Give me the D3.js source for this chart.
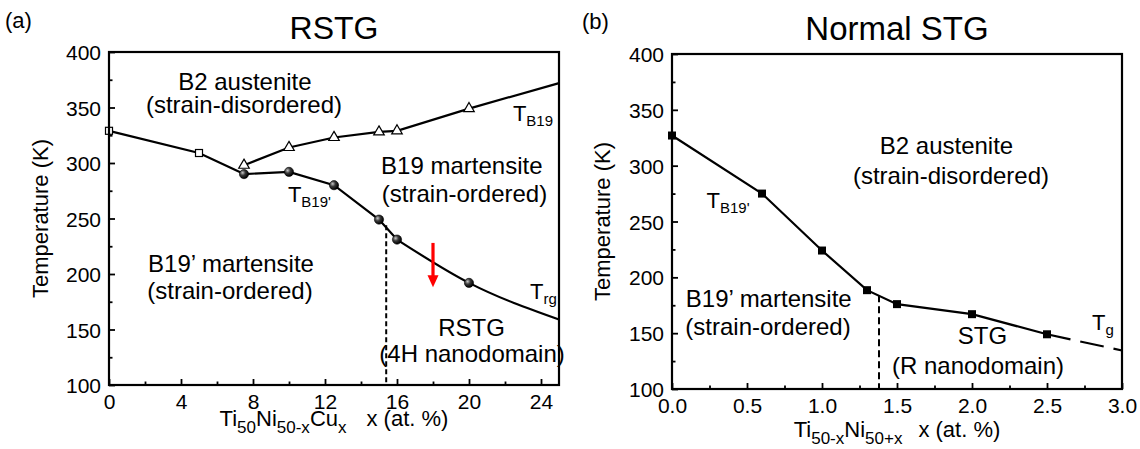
<!DOCTYPE html>
<html>
<head>
<meta charset="utf-8">
<script src="https://cdn.jsdelivr.net/npm/d3@7"></script>
<style>
  body { margin: 0; background: #fff; }
  svg text { font-family: "Liberation Sans", Arial, sans-serif; fill: #000; }
</style>
</head>
<body>
<div id="chart"></div>
<script>
// (a) RSTG, Ti50Ni50-xCux
const aSquareX = [0, 5];
const aSquareT = [329, 309];
const aTriangleX = [7.5, 10, 12.5, 15, 16, 20];
const aTriangleT = [298, 314, 323, 328, 329, 349];
const aTriangleEnd = [25, 372];
const aCircleX = [7.5, 10, 12.5, 15, 16, 20];
const aCircleT = [290, 292, 280, 249, 231, 192];
const aCircleEnd = [25, 159];
const aBoundary = [15.4, 244];
const aArrow = [18, 228, 188];
const aXTicks = [0, 4, 8, 12, 16, 20, 24];
const aXMinor = [2, 6, 10, 14, 18, 22];

// (b) Normal STG, Ti50-xNi50+x
const bX = [0, 0.6, 1.0, 1.3, 1.5, 2.0, 2.5];
const bT = [327, 275, 224, 188.5, 176, 167, 149];
const bEnd = [3.0, 134.5];
const bBoundary = [1.38, 184];
const bXTicks = [0, 0.5, 1.0, 1.5, 2.0, 2.5, 3.0];
const bXMinor = [0.25, 0.75, 1.25, 1.75, 2.25, 2.75];

const yTicks = [100, 150, 200, 250, 300, 350, 400];
const yMinor = [125, 175, 225, 275, 325, 375];

const svg = d3.select('#chart').append('svg')
  .attr('width', 1140)
  .attr('height', 449)
  .style('background', '#fff');

const grad = svg.append('defs').append('radialGradient')
  .attr('id', 'ball')
  .attr('cx', '35%').attr('cy', '35%').attr('r', '65%');
grad.append('stop').attr('offset', '0%').attr('stop-color', '#c8c8c8');
grad.append('stop').attr('offset', '45%').attr('stop-color', '#3a3a3a');
grad.append('stop').attr('offset', '100%').attr('stop-color', '#000');

const makePanel = (box, xDomain) => ({
  box,
  x: d3.scaleLinear().domain(xDomain).range([box.left, box.right]),
  y: d3.scaleLinear().domain([100, 400]).range([box.bottom, box.top])
});

const drawAxes = (p, xTicks, xMinor, xFmt, labelY) => {
  const { box } = p;
  // d3 axis sets its own font on the group, so restyle after the call
  const tidy = (g) => {
    g.select('.domain').remove();
    g.attr('font-size', 21).attr('font-family', null);
    g.selectAll('line').attr('stroke', '#000').attr('stroke-width', 1.8);
    g.selectAll('text').attr('fill', '#000');
  };

  svg.append('g').attr('transform', `translate(0,${box.bottom})`)
    .call(d3.axisBottom(p.x).tickValues(xMinor).tickSize(-3.5).tickFormat(''))
    .call(tidy);
  svg.append('g').attr('transform', `translate(0,${box.bottom})`)
    .call(d3.axisBottom(p.x).tickValues(xTicks).tickSize(-6).tickFormat(xFmt))
    .call(tidy)
    .call(g => g.selectAll('text').attr('y', labelY).attr('dy', null));

  svg.append('g').attr('transform', `translate(${box.left},0)`)
    .call(d3.axisLeft(p.y).tickValues(yMinor).tickSize(-3.5).tickFormat(''))
    .call(tidy);
  svg.append('g').attr('transform', `translate(${box.left},0)`)
    .call(d3.axisLeft(p.y).tickValues(yTicks).tickSize(-6).tickPadding(8).tickFormat(d3.format('d')))
    .call(tidy)
    .call(g => g.selectAll('text').attr('dy', '0.36em'));

  svg.append('rect')
    .attr('x', box.left).attr('y', box.top)
    .attr('width', box.right - box.left).attr('height', box.bottom - box.top)
    .attr('fill', 'none').attr('stroke', '#000').attr('stroke-width', 2.2);
};

const label = (p, xv, tv, txt, size = 24) => {
  svg.append('text')
    .attr('x', p.x(xv)).attr('y', p.y(tv))
    .attr('text-anchor', 'middle')
    .attr('font-size', size)
    .text(txt);
};

const tLabel = (p, xv, tv, sub) => {
  const t = svg.append('text')
    .attr('x', p.x(xv)).attr('y', p.y(tv))
    .attr('font-size', 22);
  t.append('tspan').text('T');
  t.append('tspan').attr('font-size', 15).attr('dy', 5).text(sub);
};

const axisTitles = (p, parts, gap, baseline, yTitleX) => {
  const { box } = p;
  const t = svg.append('text')
    .attr('x', (box.left + box.right) / 2)
    .attr('y', baseline)
    .attr('text-anchor', 'middle')
    .attr('font-size', 22);
  let low = false;
  parts.forEach(([txt, sub, shift]) => {
    const s = t.append('tspan').text(txt);
    if (sub && !low) { s.attr('dy', shift).attr('font-size', 17); low = true; }
    else if (sub) { s.attr('font-size', 17); }
    else if (low) { s.attr('dy', -shift); low = false; }
  });
  t.append('tspan').attr('dx', gap).attr('dy', low ? -parts[parts.length - 1][2] : 0).text('x (at. %)');

  svg.append('text')
    .attr('transform', `translate(${yTitleX},${(box.top + box.bottom) / 2}) rotate(-90)`)
    .attr('text-anchor', 'middle')
    .attr('font-size', 22)
    .text('Temperature (K)');
};

const lineGen = (p, curve = d3.curveLinear) => d3.line()
  .x(d => p.x(d[0])).y(d => p.y(d[1])).curve(curve);

const drawPath = (p, pts, opts = {}) => {
  svg.append('path')
    .attr('d', lineGen(p, opts.curve)(pts))
    .attr('fill', 'none')
    .attr('stroke', '#000')
    .attr('stroke-width', opts.width || 2.2)
    .attr('stroke-dasharray', opts.dash || null);
};

// ---------- panel (a) ----------
const pa = makePanel({ left: 109, right: 559, top: 52, bottom: 385 }, [0, 25]);

const aSq = aSquareX.map((v, i) => [v, aSquareT[i]]);
const aTri = aTriangleX.map((v, i) => [v, aTriangleT[i]]);
const aCir = aCircleX.map((v, i) => [v, aCircleT[i]]);

drawPath(pa, [...aSq, aCir[0]]);
drawPath(pa, [...aTri, aTriangleEnd]);
drawPath(pa, aCir.slice(0, 5));
drawPath(pa, [...aCir.slice(4), aCircleEnd], { curve: d3.curveMonotoneX });

// phase boundary
svg.append('line')
  .attr('x1', pa.x(aBoundary[0])).attr('x2', pa.x(aBoundary[0]))
  .attr('y1', pa.y(aBoundary[1])).attr('y2', pa.y(100))
  .attr('stroke', '#000').attr('stroke-width', 2).attr('stroke-dasharray', '5,3');

svg.selectAll('.a-sq').data(aSq).join('rect')
  .attr('x', d => pa.x(d[0]) - 3.5).attr('y', d => pa.y(d[1]) - 3.5)
  .attr('width', 7).attr('height', 7)
  .attr('fill', '#fff').attr('stroke', '#000').attr('stroke-width', 1.2);

const tri = d3.symbol().type(d3.symbolTriangle).size(48);
svg.selectAll('.a-tri').data(aTri).join('path')
  .attr('transform', d => `translate(${pa.x(d[0])},${pa.y(d[1])})`)
  .attr('d', tri)
  .attr('fill', '#fff').attr('stroke', '#000').attr('stroke-width', 1.2);

svg.selectAll('.a-cir').data(aCir).join('circle')
  .attr('cx', d => pa.x(d[0])).attr('cy', d => pa.y(d[1]))
  .attr('r', 4.6)
  .attr('fill', 'url(#ball)').attr('stroke', '#000').attr('stroke-width', 0.6);

// red arrow
const ax = pa.x(aArrow[0]);
svg.append('line')
  .attr('x1', ax).attr('x2', ax)
  .attr('y1', pa.y(aArrow[1])).attr('y2', pa.y(aArrow[2]) - 10)
  .attr('stroke', '#f00').attr('stroke-width', 3.2);
svg.append('path')
  .attr('d', `M${ax - 5.5},${pa.y(aArrow[2]) - 12} L${ax + 5.5},${pa.y(aArrow[2]) - 12} L${ax},${pa.y(aArrow[2])} Z`)
  .attr('fill', '#f00');

drawAxes(pa, aXTicks, aXMinor, d3.format('d'), 24);

label(pa, 7.55, 365.5, 'B2 austenite');
label(pa, 7.5, 345, '(strain-disordered)');
label(pa, 19.6, 290, 'B19 martensite');
label(pa, 19.75, 264.5, '(strain-ordered)');
label(pa, 6.78, 202, 'B19’ martensite');
label(pa, 6.72, 177.5, '(strain-ordered)');
label(pa, 20.14, 144, 'RSTG');
label(pa, 20.17, 120.5, '(4H nanodomain)');
tLabel(pa, 9.94, 265, "B19'");
tLabel(pa, 22.44, 338, 'B19');
tLabel(pa, 23.39, 177.5, 'rg');

axisTitles(pa, [['Ti'], ['50', true, 7], ['Ni', false, 7], ['50-x', true, 7], ['Cu', false, 7], ['x', true, 7]], 20, 426, 48);

svg.append('text').attr('x', 5).attr('y', 28).attr('font-size', 22).text('(a)');
svg.append('text').attr('x', pa.x(12.5)).attr('y', 39)
  .attr('text-anchor', 'middle').attr('font-size', 32).text('RSTG');

// ---------- panel (b) ----------
const pb = makePanel({ left: 672, right: 1122, top: 54, bottom: 389 }, [0, 3]);
const bPts = bX.map((v, i) => [v, bT[i]]);

drawPath(pb, bPts);
drawPath(pb, [bPts[bPts.length - 1], bEnd], { dash: '24,10' });

svg.append('line')
  .attr('x1', pb.x(bBoundary[0])).attr('x2', pb.x(bBoundary[0]))
  .attr('y1', pb.y(bBoundary[1])).attr('y2', pb.y(100))
  .attr('stroke', '#000').attr('stroke-width', 2).attr('stroke-dasharray', '7,4');

svg.selectAll('.b-sq').data(bPts).join('rect')
  .attr('x', d => pb.x(d[0]) - 4).attr('y', d => pb.y(d[1]) - 4)
  .attr('width', 8).attr('height', 8)
  .attr('fill', '#000');

drawAxes(pb, bXTicks, bXMinor, d3.format('.1f'), 24);

label(pb, 1.83, 310.4, 'B2 austenite');
label(pb, 1.86, 284, '(strain-disordered)');
label(pb, 0.645, 173.5, 'B19’ martensite');
label(pb, 0.64, 148, '(strain-ordered)');
label(pb, 2.07, 140.5, 'STG');
label(pb, 2.04, 113.5, '(R nanodomain)');
tLabel(pb, 0.23, 262, "B19'");
tLabel(pb, 2.8, 152.5, 'g');

axisTitles(pb, [['Ti'], ['50-x', true, 7], ['Ni', false, 7], ['50+x', true, 7]], 16, 437, 610);

svg.append('text').attr('x', 582).attr('y', 29).attr('font-size', 22).text('(b)');
svg.append('text').attr('x', pb.x(1.5)).attr('y', 40)
  .attr('text-anchor', 'middle').attr('font-size', 33).text('Normal STG');
</script>
</body>
</html>
